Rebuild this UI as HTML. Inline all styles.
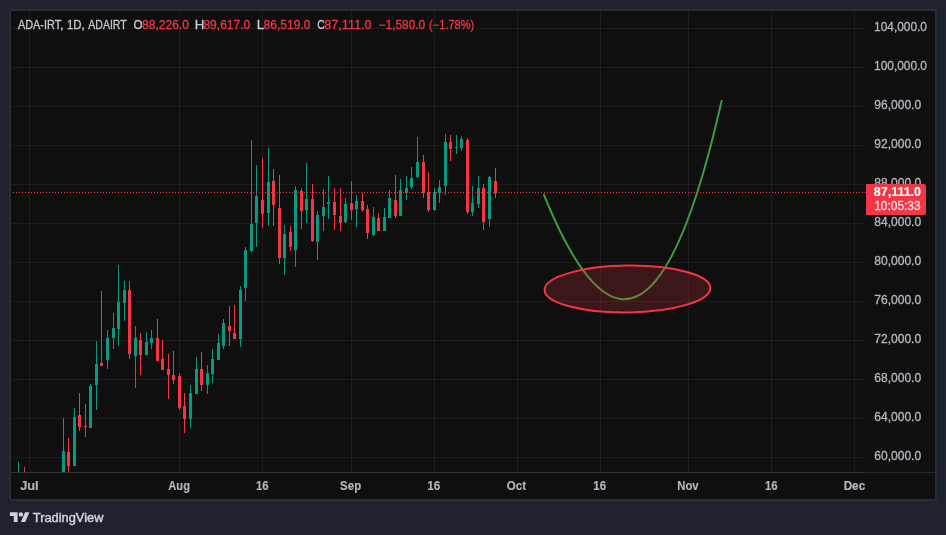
<!DOCTYPE html>
<html><head><meta charset="utf-8"><title>ADA-IRT</title>
<style>
html,body{margin:0;padding:0;}
body{width:946px;height:535px;overflow:hidden;background:#1e222d;font-family:"Liberation Sans",sans-serif;position:relative;}
.frame{position:absolute;left:9px;top:9px;width:924px;height:488px;border:2px solid #292d39;border-radius:3px;background:#0f0f0f;}
.pane{position:absolute;left:0;top:0;}
.sep{position:absolute;left:11px;top:472px;width:855px;height:1px;background:#2e323e;}
.sep2{position:absolute;left:867px;top:472px;width:68px;height:1px;background:#262a35;}
</style></head><body>
<div class="frame"></div>
<svg class="pane" width="946" height="535" viewBox="0 0 946 535" shape-rendering="crispEdges">
<defs><clipPath id="cp"><rect x="11" y="11" width="855" height="461"/></clipPath></defs>
<g clip-path="url(#cp)">
<rect x="11" y="28" width="855" height="1" fill="rgba(242,242,242,0.058)"/>
<rect x="11" y="67" width="855" height="1" fill="rgba(242,242,242,0.058)"/>
<rect x="11" y="106" width="855" height="1" fill="rgba(242,242,242,0.058)"/>
<rect x="11" y="145" width="855" height="1" fill="rgba(242,242,242,0.058)"/>
<rect x="11" y="184" width="855" height="1" fill="rgba(242,242,242,0.058)"/>
<rect x="11" y="223" width="855" height="1" fill="rgba(242,242,242,0.058)"/>
<rect x="11" y="262" width="855" height="1" fill="rgba(242,242,242,0.058)"/>
<rect x="11" y="301" width="855" height="1" fill="rgba(242,242,242,0.058)"/>
<rect x="11" y="340" width="855" height="1" fill="rgba(242,242,242,0.058)"/>
<rect x="11" y="379" width="855" height="1" fill="rgba(242,242,242,0.058)"/>
<rect x="11" y="418" width="855" height="1" fill="rgba(242,242,242,0.058)"/>
<rect x="11" y="457" width="855" height="1" fill="rgba(242,242,242,0.058)"/>
<rect x="29" y="11" width="1" height="461" fill="rgba(242,242,242,0.058)"/>
<rect x="179" y="11" width="1" height="461" fill="rgba(242,242,242,0.058)"/>
<rect x="262" y="11" width="1" height="461" fill="rgba(242,242,242,0.058)"/>
<rect x="351" y="11" width="1" height="461" fill="rgba(242,242,242,0.058)"/>
<rect x="434" y="11" width="1" height="461" fill="rgba(242,242,242,0.058)"/>
<rect x="517" y="11" width="1" height="461" fill="rgba(242,242,242,0.058)"/>
<rect x="600" y="11" width="1" height="461" fill="rgba(242,242,242,0.058)"/>
<rect x="688" y="11" width="1" height="461" fill="rgba(242,242,242,0.058)"/>
<rect x="771" y="11" width="1" height="461" fill="rgba(242,242,242,0.058)"/>
<rect x="854" y="11" width="1" height="461" fill="rgba(242,242,242,0.058)"/>
<rect x="18" y="462" width="1" height="12" fill="#089981"/>
<rect x="24" y="467" width="1" height="7" fill="#f23645"/>
<rect x="63" y="418" width="1" height="56" fill="#089981"/>
<rect x="62" y="451" width="3" height="23" fill="#089981"/>
<rect x="68" y="438" width="1" height="36" fill="#f23645"/>
<rect x="67" y="452" width="3" height="14" fill="#f23645"/>
<rect x="74" y="408" width="1" height="58" fill="#089981"/>
<rect x="73" y="417" width="3" height="49" fill="#089981"/>
<rect x="79" y="393" width="1" height="38" fill="#f23645"/>
<rect x="78" y="415" width="3" height="12" fill="#f23645"/>
<rect x="85" y="404" width="1" height="33" fill="#f23645"/>
<rect x="84" y="426" width="3" height="1" fill="#f23645"/>
<rect x="90" y="384" width="1" height="44" fill="#089981"/>
<rect x="89" y="386" width="3" height="42" fill="#089981"/>
<rect x="96" y="341" width="1" height="69" fill="#089981"/>
<rect x="95" y="364" width="3" height="21" fill="#089981"/>
<rect x="101" y="291" width="1" height="75" fill="#f23645"/>
<rect x="100" y="363" width="3" height="3" fill="#f23645"/>
<rect x="107" y="330" width="1" height="39" fill="#089981"/>
<rect x="106" y="338" width="3" height="22" fill="#089981"/>
<rect x="113" y="313" width="1" height="36" fill="#089981"/>
<rect x="112" y="328" width="3" height="10" fill="#089981"/>
<rect x="118" y="265" width="1" height="81" fill="#089981"/>
<rect x="117" y="302" width="3" height="27" fill="#089981"/>
<rect x="124" y="281" width="1" height="40" fill="#089981"/>
<rect x="123" y="290" width="3" height="13" fill="#089981"/>
<rect x="129" y="281" width="1" height="78" fill="#f23645"/>
<rect x="128" y="290" width="3" height="64" fill="#f23645"/>
<rect x="135" y="326" width="1" height="62" fill="#089981"/>
<rect x="134" y="338" width="3" height="18" fill="#089981"/>
<rect x="140" y="333" width="1" height="42" fill="#f23645"/>
<rect x="139" y="340" width="3" height="15" fill="#f23645"/>
<rect x="146" y="332" width="1" height="23" fill="#089981"/>
<rect x="145" y="342" width="3" height="13" fill="#089981"/>
<rect x="151" y="330" width="1" height="19" fill="#089981"/>
<rect x="150" y="338" width="3" height="5" fill="#089981"/>
<rect x="157" y="319" width="1" height="42" fill="#f23645"/>
<rect x="156" y="338" width="3" height="23" fill="#f23645"/>
<rect x="162" y="340" width="1" height="30" fill="#f23645"/>
<rect x="161" y="359" width="3" height="11" fill="#f23645"/>
<rect x="168" y="354" width="1" height="45" fill="#f23645"/>
<rect x="167" y="369" width="3" height="6" fill="#f23645"/>
<rect x="173" y="351" width="1" height="33" fill="#f23645"/>
<rect x="172" y="375" width="3" height="5" fill="#f23645"/>
<rect x="179" y="373" width="1" height="37" fill="#f23645"/>
<rect x="178" y="376" width="3" height="32" fill="#f23645"/>
<rect x="184" y="393" width="1" height="40" fill="#f23645"/>
<rect x="183" y="406" width="3" height="13" fill="#f23645"/>
<rect x="190" y="385" width="1" height="43" fill="#089981"/>
<rect x="189" y="393" width="3" height="26" fill="#089981"/>
<rect x="196" y="357" width="1" height="37" fill="#089981"/>
<rect x="195" y="369" width="3" height="25" fill="#089981"/>
<rect x="201" y="352" width="1" height="39" fill="#f23645"/>
<rect x="200" y="369" width="3" height="16" fill="#f23645"/>
<rect x="207" y="365" width="1" height="29" fill="#089981"/>
<rect x="206" y="373" width="3" height="12" fill="#089981"/>
<rect x="212" y="349" width="1" height="34" fill="#089981"/>
<rect x="211" y="359" width="3" height="15" fill="#089981"/>
<rect x="218" y="334" width="1" height="26" fill="#089981"/>
<rect x="217" y="343" width="3" height="17" fill="#089981"/>
<rect x="223" y="319" width="1" height="30" fill="#089981"/>
<rect x="222" y="323" width="3" height="23" fill="#089981"/>
<rect x="229" y="306" width="1" height="40" fill="#f23645"/>
<rect x="228" y="326" width="3" height="5" fill="#f23645"/>
<rect x="234" y="305" width="1" height="34" fill="#f23645"/>
<rect x="233" y="333" width="3" height="6" fill="#f23645"/>
<rect x="240" y="286" width="1" height="61" fill="#089981"/>
<rect x="239" y="290" width="3" height="49" fill="#089981"/>
<rect x="245" y="247" width="1" height="54" fill="#089981"/>
<rect x="244" y="250" width="3" height="38" fill="#089981"/>
<rect x="251" y="140" width="1" height="112" fill="#089981"/>
<rect x="250" y="224" width="3" height="27" fill="#089981"/>
<rect x="256" y="165" width="1" height="82" fill="#089981"/>
<rect x="255" y="196" width="3" height="27" fill="#089981"/>
<rect x="262" y="158" width="1" height="70" fill="#f23645"/>
<rect x="261" y="200" width="3" height="14" fill="#f23645"/>
<rect x="268" y="148" width="1" height="78" fill="#089981"/>
<rect x="267" y="182" width="3" height="31" fill="#089981"/>
<rect x="273" y="169" width="1" height="57" fill="#f23645"/>
<rect x="272" y="181" width="3" height="24" fill="#f23645"/>
<rect x="279" y="175" width="1" height="89" fill="#f23645"/>
<rect x="278" y="208" width="3" height="50" fill="#f23645"/>
<rect x="284" y="225" width="1" height="50" fill="#089981"/>
<rect x="283" y="234" width="3" height="24" fill="#089981"/>
<rect x="290" y="226" width="1" height="25" fill="#f23645"/>
<rect x="289" y="232" width="3" height="15" fill="#f23645"/>
<rect x="295" y="186" width="1" height="81" fill="#089981"/>
<rect x="294" y="190" width="3" height="60" fill="#089981"/>
<rect x="301" y="188" width="1" height="41" fill="#f23645"/>
<rect x="300" y="191" width="3" height="20" fill="#f23645"/>
<rect x="306" y="163" width="1" height="60" fill="#089981"/>
<rect x="305" y="199" width="3" height="11" fill="#089981"/>
<rect x="312" y="184" width="1" height="58" fill="#f23645"/>
<rect x="311" y="199" width="3" height="42" fill="#f23645"/>
<rect x="317" y="211" width="1" height="49" fill="#089981"/>
<rect x="316" y="215" width="3" height="27" fill="#089981"/>
<rect x="323" y="189" width="1" height="42" fill="#089981"/>
<rect x="322" y="207" width="3" height="9" fill="#089981"/>
<rect x="328" y="176" width="1" height="43" fill="#089981"/>
<rect x="327" y="202" width="3" height="2" fill="#089981"/>
<rect x="334" y="188" width="1" height="42" fill="#f23645"/>
<rect x="333" y="202" width="3" height="13" fill="#f23645"/>
<rect x="340" y="188" width="1" height="43" fill="#f23645"/>
<rect x="339" y="216" width="3" height="7" fill="#f23645"/>
<rect x="345" y="198" width="1" height="25" fill="#089981"/>
<rect x="344" y="204" width="3" height="18" fill="#089981"/>
<rect x="351" y="181" width="1" height="39" fill="#f23645"/>
<rect x="350" y="203" width="3" height="7" fill="#f23645"/>
<rect x="356" y="195" width="1" height="32" fill="#089981"/>
<rect x="355" y="201" width="3" height="8" fill="#089981"/>
<rect x="362" y="193" width="1" height="19" fill="#f23645"/>
<rect x="361" y="201" width="3" height="9" fill="#f23645"/>
<rect x="367" y="205" width="1" height="34" fill="#f23645"/>
<rect x="366" y="209" width="3" height="24" fill="#f23645"/>
<rect x="373" y="207" width="1" height="29" fill="#089981"/>
<rect x="372" y="217" width="3" height="18" fill="#089981"/>
<rect x="378" y="213" width="1" height="18" fill="#f23645"/>
<rect x="377" y="218" width="3" height="13" fill="#f23645"/>
<rect x="384" y="208" width="1" height="23" fill="#089981"/>
<rect x="383" y="217" width="3" height="14" fill="#089981"/>
<rect x="389" y="190" width="1" height="28" fill="#089981"/>
<rect x="388" y="198" width="3" height="20" fill="#089981"/>
<rect x="395" y="175" width="1" height="43" fill="#f23645"/>
<rect x="394" y="200" width="3" height="16" fill="#f23645"/>
<rect x="400" y="179" width="1" height="37" fill="#089981"/>
<rect x="399" y="190" width="3" height="26" fill="#089981"/>
<rect x="406" y="176" width="1" height="24" fill="#089981"/>
<rect x="405" y="188" width="3" height="5" fill="#089981"/>
<rect x="411" y="167" width="1" height="22" fill="#089981"/>
<rect x="410" y="178" width="3" height="9" fill="#089981"/>
<rect x="417" y="137" width="1" height="41" fill="#089981"/>
<rect x="416" y="162" width="3" height="15" fill="#089981"/>
<rect x="423" y="155" width="1" height="43" fill="#f23645"/>
<rect x="422" y="162" width="3" height="31" fill="#f23645"/>
<rect x="428" y="172" width="1" height="40" fill="#f23645"/>
<rect x="427" y="192" width="3" height="18" fill="#f23645"/>
<rect x="434" y="188" width="1" height="23" fill="#089981"/>
<rect x="433" y="192" width="3" height="18" fill="#089981"/>
<rect x="439" y="180" width="1" height="23" fill="#089981"/>
<rect x="438" y="187" width="3" height="6" fill="#089981"/>
<rect x="445" y="134" width="1" height="61" fill="#089981"/>
<rect x="444" y="142" width="3" height="44" fill="#089981"/>
<rect x="450" y="135" width="1" height="26" fill="#f23645"/>
<rect x="449" y="142" width="3" height="7" fill="#f23645"/>
<rect x="456" y="135" width="1" height="19" fill="#089981"/>
<rect x="455" y="147" width="3" height="1" fill="#089981"/>
<rect x="461" y="136" width="1" height="15" fill="#089981"/>
<rect x="460" y="139" width="3" height="9" fill="#089981"/>
<rect x="467" y="138" width="1" height="76" fill="#f23645"/>
<rect x="466" y="140" width="3" height="72" fill="#f23645"/>
<rect x="472" y="186" width="1" height="30" fill="#089981"/>
<rect x="471" y="203" width="3" height="9" fill="#089981"/>
<rect x="478" y="176" width="1" height="32" fill="#089981"/>
<rect x="477" y="188" width="3" height="16" fill="#089981"/>
<rect x="483" y="184" width="1" height="46" fill="#f23645"/>
<rect x="482" y="188" width="3" height="34" fill="#f23645"/>
<rect x="489" y="176" width="1" height="51" fill="#089981"/>
<rect x="488" y="177" width="3" height="42" fill="#089981"/>
<rect x="495" y="168" width="1" height="30" fill="#f23645"/>
<rect x="494" y="181" width="3" height="12" fill="#f23645"/>
<line x1="10" y1="192.5" x2="866" y2="192.5" stroke="#f23645" stroke-width="1" stroke-dasharray="1 2"/>
</g>
<g shape-rendering="geometricPrecision" clip-path="url(#cp)">
<path d="M544 195 Q644.5 442.9 721.6 101" fill="none" stroke="#3a9c3e" stroke-width="2" stroke-linecap="round"/>
<ellipse transform="rotate(-0.65 627.5 289)" cx="627.5" cy="289" rx="82.9" ry="23.4" fill="rgba(242,54,69,0.2)" stroke="#f23645" stroke-width="2"/>
</g>
</svg>
<div class="sep"></div><div class="sep2"></div>
<svg class="pane" style="will-change:transform" width="946" height="535" viewBox="0 0 946 535" font-family="Liberation Sans, sans-serif"><text transform="translate(17.90 29.00) scale(0.9108 1)" font-size="12" font-weight="normal" fill="#c5c8d0" stroke="#c5c8d0" stroke-width="0.3">ADA-IRT,</text><text transform="translate(66.99 29.00) scale(0.9529 1)" font-size="12" font-weight="normal" fill="#c5c8d0" stroke="#c5c8d0" stroke-width="0.3">1D,</text><text transform="translate(88.30 29.00) scale(0.8782 1)" font-size="12" font-weight="normal" fill="#c5c8d0" stroke="#c5c8d0" stroke-width="0.3">ADAIRT</text><text transform="translate(133.42 29.00) scale(0.9697 1)" font-size="12" font-weight="normal" fill="#c5c8d0" stroke="#c5c8d0" stroke-width="0.3">O</text><text transform="translate(142.00 29.00) scale(1.0055 1)" font-size="12" font-weight="normal" fill="#f23645" stroke="#f23645" stroke-width="0.3">88,226.0</text><text transform="translate(194.69 29.00) scale(1.1111 1)" font-size="12" font-weight="normal" fill="#c5c8d0" stroke="#c5c8d0" stroke-width="0.3">H</text><text transform="translate(203.40 29.00) scale(1.0055 1)" font-size="12" font-weight="normal" fill="#f23645" stroke="#f23645" stroke-width="0.3">89,617.0</text><text transform="translate(256.68 29.00) scale(1.1238 1)" font-size="12" font-weight="normal" fill="#c5c8d0" stroke="#c5c8d0" stroke-width="0.3">L</text><text transform="translate(263.60 29.00) scale(1.0033 1)" font-size="12" font-weight="normal" fill="#f23645" stroke="#f23645" stroke-width="0.3">86,519.0</text><text transform="translate(317.27 29.00) scale(0.8645 1)" font-size="12" font-weight="normal" fill="#c5c8d0" stroke="#c5c8d0" stroke-width="0.3">C</text><text transform="translate(324.27 29.00) scale(1.0545 1)" font-size="12" font-weight="normal" fill="#f23645" stroke="#f23645" stroke-width="0.3">87,111.0</text><text transform="translate(378.50 29.00) scale(0.9946 1)" font-size="12" font-weight="normal" fill="#f23645" stroke="#f23645" stroke-width="0.3">−1,580.0</text><text transform="translate(429.11 29.00) scale(0.9221 1)" font-size="12" font-weight="normal" fill="#f23645" stroke="#f23645" stroke-width="0.3">(−1.78%)</text><text transform="translate(874.06 30.90) scale(0.9933 1)" font-size="12" font-weight="normal" fill="#b4b7c0" stroke="#b4b7c0" stroke-width="0.3">104,000.0</text><text transform="translate(874.06 69.91) scale(0.9933 1)" font-size="12" font-weight="normal" fill="#b4b7c0" stroke="#b4b7c0" stroke-width="0.3">100,000.0</text><text transform="translate(874.30 108.92) scale(1.0033 1)" font-size="12" font-weight="normal" fill="#b4b7c0" stroke="#b4b7c0" stroke-width="0.3">96,000.0</text><text transform="translate(874.30 147.93) scale(1.0033 1)" font-size="12" font-weight="normal" fill="#b4b7c0" stroke="#b4b7c0" stroke-width="0.3">92,000.0</text><text transform="translate(874.30 186.94) scale(1.0033 1)" font-size="12" font-weight="normal" fill="#b4b7c0" stroke="#b4b7c0" stroke-width="0.3">88,000.0</text><text transform="translate(874.30 225.95) scale(1.0033 1)" font-size="12" font-weight="normal" fill="#b4b7c0" stroke="#b4b7c0" stroke-width="0.3">84,000.0</text><text transform="translate(874.30 264.96) scale(1.0033 1)" font-size="12" font-weight="normal" fill="#b4b7c0" stroke="#b4b7c0" stroke-width="0.3">80,000.0</text><text transform="translate(874.30 303.97) scale(1.0033 1)" font-size="12" font-weight="normal" fill="#b4b7c0" stroke="#b4b7c0" stroke-width="0.3">76,000.0</text><text transform="translate(874.30 342.98) scale(1.0033 1)" font-size="12" font-weight="normal" fill="#b4b7c0" stroke="#b4b7c0" stroke-width="0.3">72,000.0</text><text transform="translate(874.30 381.99) scale(1.0033 1)" font-size="12" font-weight="normal" fill="#b4b7c0" stroke="#b4b7c0" stroke-width="0.3">68,000.0</text><text transform="translate(874.30 421.00) scale(1.0033 1)" font-size="12" font-weight="normal" fill="#b4b7c0" stroke="#b4b7c0" stroke-width="0.3">64,000.0</text><text transform="translate(874.30 460.01) scale(1.0033 1)" font-size="12" font-weight="normal" fill="#b4b7c0" stroke="#b4b7c0" stroke-width="0.3">60,000.0</text><text transform="translate(20.13 490.00) scale(1.0708 1)" font-size="12" font-weight="bold" fill="#b4b7c0" stroke="#b4b7c0" stroke-width="0.15">Jul</text><text transform="translate(168.27 490.00) scale(0.9303 1)" font-size="12" font-weight="bold" fill="#b4b7c0" stroke="#b4b7c0" stroke-width="0.15">Aug</text><text transform="translate(255.89 490.00) scale(0.9469 1)" font-size="12" font-weight="bold" fill="#b4b7c0" stroke="#b4b7c0" stroke-width="0.15">16</text><text transform="translate(340.12 490.00) scale(0.9571 1)" font-size="12" font-weight="bold" fill="#b4b7c0" stroke="#b4b7c0" stroke-width="0.15">Sep</text><text transform="translate(427.17 490.00) scale(0.9796 1)" font-size="12" font-weight="bold" fill="#b4b7c0" stroke="#b4b7c0" stroke-width="0.15">16</text><text transform="translate(506.82 490.00) scale(0.9641 1)" font-size="12" font-weight="bold" fill="#b4b7c0" stroke="#b4b7c0" stroke-width="0.15">Oct</text><text transform="translate(593.28 490.00) scale(0.9551 1)" font-size="12" font-weight="bold" fill="#b4b7c0" stroke="#b4b7c0" stroke-width="0.15">16</text><text transform="translate(677.29 490.00) scale(0.9425 1)" font-size="12" font-weight="bold" fill="#b4b7c0" stroke="#b4b7c0" stroke-width="0.15">Nov</text><text transform="translate(764.89 490.00) scale(0.9469 1)" font-size="12" font-weight="bold" fill="#b4b7c0" stroke="#b4b7c0" stroke-width="0.15">16</text><text transform="translate(843.67 490.00) scale(0.9762 1)" font-size="12" font-weight="bold" fill="#b4b7c0" stroke="#b4b7c0" stroke-width="0.15">Dec</text><path d="M866 184H924a2 2 0 0 1 2 2V213a2 2 0 0 1-2 2H866z" fill="#f23645"/><text transform="translate(873.74 195.90) scale(1.0436 1)" font-size="12" font-weight="bold" fill="#ffffff" stroke="#ffffff" stroke-width="0.15">87,111.0</text><text transform="translate(874.15 209.90) scale(0.9956 1)" font-size="12" font-weight="normal" fill="#ffffff" fill-opacity="0.78" stroke-opacity="0.78" stroke="#ffffff" stroke-width="0.3">10:05:33</text><text transform="translate(32.84 521.60) scale(1.0263 1)" font-size="12.5" font-weight="normal" fill="#d1d4dc" stroke="#d1d4dc" stroke-width="0.45">TradingView</text><g transform="translate(9.9 510) scale(0.55)"><path fill="#d1d4dc" d="M14 22H7V11H0V4h14v18zM28 22h-8l7.5-18h8L28 22z"/><circle cx="20" cy="8" r="4" fill="#d1d4dc"/></g></svg>
</body></html>
